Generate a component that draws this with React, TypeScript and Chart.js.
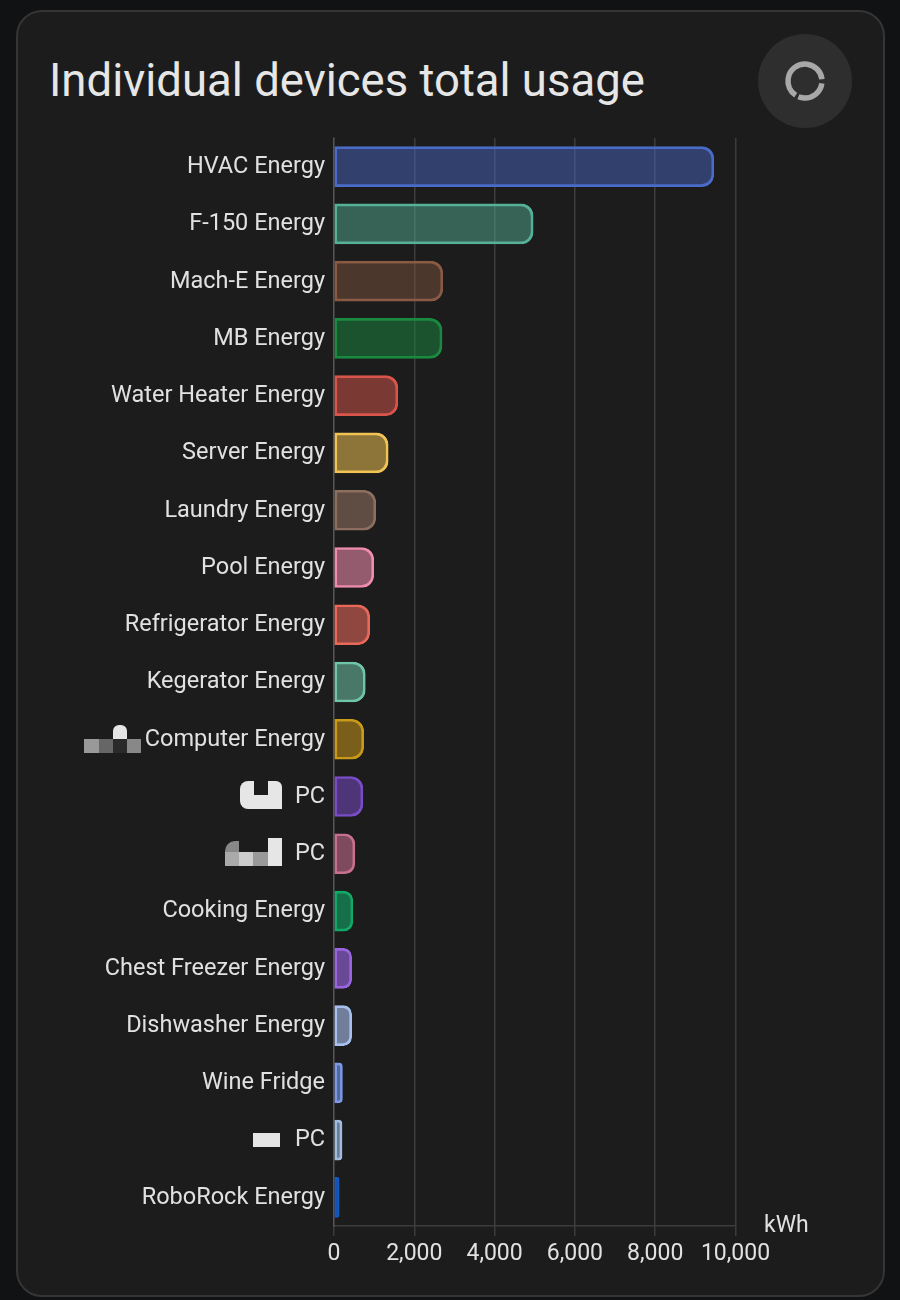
import React, { useEffect, useRef } from "react";
import { Chart, registerables } from "chart.js";

Chart.register(...registerables);

const categories = [
  "HVAC Energy", "F-150 Energy", "Mach-E Energy", "MB Energy", "Water Heater Energy",
  "Server Energy", "Laundry Energy", "Pool Energy", "Refrigerator Energy", "Kegerator Energy",
  "Computer Energy", "PC", "PC ", "Cooking Energy", "Chest Freezer Energy",
  "Dishwasher Energy", "Wine Fridge", "PC  ", "RoboRock Energy",
];
const usage = [9460, 4960, 2710, 2690, 1590, 1350, 1040, 990, 890, 780, 740, 720, 520, 470, 440, 440, 210, 200, 130];
const strokeColors = [
  "#4a6bc8", "#55b096", "#8a5a45", "#1a8a40", "#d9554c", "#f0c354", "#8d6e5f", "#f08cb0", "#e8695a", "#70c4aa",
  "#c99a18", "#7a4cc8", "#c8708f", "#12a868", "#9a65e0", "#a8c0ee", "#7a9ae8", "#a0bce0", "#1558c0",
];
const fillColors = [
  "#4a6bc878", "#55b0967a", "#8a5a4570", "#1a8a4080", "#d9554c80", "#f0c35488", "#8d6e5f98", "#f08cb090", "#e8695a90", "#70c4aa8c",
  "#c99a188a", "#7a4cc88a", "#c8708f90", "#12a86898", "#9a65e09e", "#a8c0ee99", "#7a9ae899", "#a0bce099", "#1558c099",
];
const xTicks = [0, 2000, 4000, 6000, 8000, 10000];
const FONT = "Roboto, sans-serif";

const masks: [number, number, number, number, string, string?][] = [
  [84, 739, 15, 14, "#999"], [99, 739, 14, 14, "#666"], [113, 739, 14, 14, "#2a2a2a"], [127, 739, 14, 14, "#888"], [113, 725, 14, 14, "#e6e6e6", "6px 6px 0 0"],
  [240, 795, 42, 14, "#e6e6e6", "0 0 0 8px"], [240, 781, 14, 14, "#e6e6e6", "8px 0 0 0"], [268, 781, 14, 14, "#e6e6e6", "0 6px 0 0"],
  [225, 852, 14, 14, "#aaa"], [239, 852, 14, 14, "#ccc"], [253, 852, 15, 14, "#999"], [268, 838, 14, 28, "#e6e6e6"], [225, 841, 14, 11, "#888", "10px 0 0 0"],
  [253, 1133, 27, 14, "#e6e6e6"],
];

export default function App() {
  const ref = useRef<HTMLCanvasElement>(null);
  useEffect(() => {
    document.body.style.margin = "0";
    document.body.style.background = "#111213";
    const chart = new Chart(ref.current!, {
      type: "bar",
      data: {
        labels: categories,
        datasets: [{
          data: usage,
          backgroundColor: fillColors,
          borderColor: strokeColors,
          borderWidth: 2,
          borderSkipped: false,
          borderRadius: { topRight: 12, bottomRight: 12, topLeft: 0, bottomLeft: 0 },
          barThickness: 40,
        }],
      },
      options: {
        indexAxis: "y",
        animation: false,
        responsive: false,
        layout: { padding: { left: 0, right: 164.5, top: 138, bottom: 0 } },
        plugins: { legend: { display: false }, tooltip: { enabled: false } },
        scales: {
          x: {
            min: 0,
            max: 10000,
            afterBuildTicks: (s: any) => { s.ticks = xTicks.map((value) => ({ value })); },
            afterFit: (s: any) => { s.height = 74; },
            grid: { color: "rgba(255,255,255,0.14)", lineWidth: 1.5, tickLength: 10, drawOnChartArea: true },
            border: { display: true, color: "rgba(255,255,255,0.14)", width: 1.5 },
            ticks: {
              color: "#e1e1e1",
              font: { family: FONT, size: 23 },
              padding: 4,
              maxRotation: 0,
              callback: (v: any) => Number(v).toLocaleString("en-US"),
            },
          },
          y: {
            afterFit: (s: any) => { s.width = 334; },
            grid: { display: false },
            border: { display: true, color: "rgba(255,255,255,0.14)", width: 1.5 },
            ticks: {
              color: "#e1e1e1",
              font: { family: FONT, size: 23.5 },
              padding: 1,
              labelOffset: 0.5,
              autoSkip: false,
              callback: function (this: any, v: any) { return categories[v].trim(); },
            },
          },
        },
      },
    } as any);
    return () => chart.destroy();
  }, []);

  return (
    <div style={{ position: "relative", width: 900, height: 1300, overflow: "hidden", background: "#111213", fontFamily: FONT }}>
      <div style={{ position: "absolute", left: 16, top: 10, width: 869, height: 1287, boxSizing: "border-box", background: "#1c1c1c", border: "2px solid #353535", borderRadius: 26 }} />
      <div style={{ position: "absolute", left: 49, top: 53, fontSize: 45.5, fontWeight: 400, lineHeight: "56px", color: "#e6e6e6", whiteSpace: "nowrap" }}>
        Individual devices total usage
      </div>
      <div style={{ position: "absolute", left: 758, top: 34, width: 94, height: 94, borderRadius: "50%", background: "#2e2e2e" }} />
      <svg style={{ position: "absolute", left: 758, top: 34 }} width={94} height={94}>
        <circle cx={47} cy={47} r={17} fill="none" stroke="#a8a8a8" strokeWidth={5.5} strokeDasharray="31 3 68 5" transform="rotate(8 47 47)" />
      </svg>
      <canvas ref={ref} width={900} height={1300} style={{ position: "absolute", left: 0, top: 0, display: "block" }} />
      {masks.map(([l, t, w, h, c, r], i) => (
        <div key={i} style={{ position: "absolute", left: l, top: t, width: w, height: h, background: c, borderRadius: r }} />
      ))}
      <div style={{ position: "absolute", left: 764, top: 1211, fontSize: 23, lineHeight: "27px", color: "#e1e1e1" }}>kWh</div>
    </div>
  );
}
